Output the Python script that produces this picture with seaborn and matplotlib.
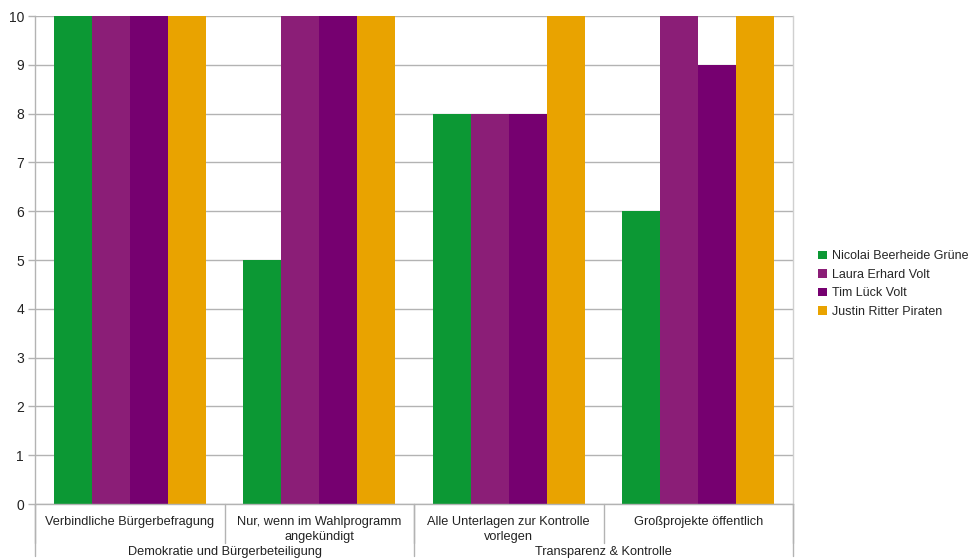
import matplotlib
matplotlib.use("Agg")
import matplotlib.pyplot as plt
import seaborn as sns
import pandas as pd
from matplotlib.patches import Patch

categories = ["Verbindliche Bürgerbefragung",
              "Nur, wenn im Wahlprogramm\nangekündigt",
              "Alle Unterlagen zur Kontrolle\nvorlegen",
              "Großprojekte öffentlich"]
groups = ["Demokratie und Bürgerbeteiligung", "Transparenz & Kontrolle"]
series = ["Nicolai Beerheide Grüne", "Laura Erhard Volt", "Tim Lück Volt", "Justin Ritter Piraten"]
values = {
    "Nicolai Beerheide Grüne": [10, 5, 8, 6],
    "Laura Erhard Volt": [10, 10, 8, 10],
    "Tim Lück Volt": [10, 10, 8, 9],
    "Justin Ritter Piraten": [10, 10, 10, 10],
}
colors = ["#0c9834", "#8b1e77", "#760070", "#e9a300"]
yticks = list(range(0, 11))

rows = []
for s in series:
    for c, v in zip(categories, values[s]):
        rows.append({"cat": c, "series": s, "val": v})
df = pd.DataFrame(rows)

sns.set_theme(style="white")
plt.rcParams["font.family"] = ["Liberation Sans", "DejaVu Sans"]

fig = plt.figure(figsize=(9.71, 5.6), dpi=100)
ax = fig.add_axes([35/971, 56/560, (793-35)/971, (504-16)/560])

sns.barplot(data=df, x="cat", y="val", hue="series", order=categories,
            hue_order=series, palette=colors, width=0.8, saturation=1,
            ax=ax, legend=False, linewidth=0)

ax.set_xlim(-0.5, 3.5)
ax.set_ylim(0, 10)
ax.set_yticks(yticks)
ax.set_yticklabels([str(t) for t in yticks], fontsize=10, color="#222222")
ax.yaxis.grid(True, color="#b3b3b3", linewidth=1)
ax.set_axisbelow(True)
ax.tick_params(axis="y", length=5, color="#b3b3b3", width=1, pad=3, left=True)
ax.set_xticks([])
ax.set_xlabel("")
ax.set_ylabel("")
ax.spines["top"].set_visible(False)
ax.spines["left"].set_color("#b3b3b3")
ax.spines["right"].set_color("#d0d0d0")
ax.spines["bottom"].set_color("#b3b3b3")
for sp in ax.spines.values():
    sp.set_linewidth(1)

trans = ax.get_xaxis_transform()
h = 488.0
for xs in [-0.5, 0.5, 1.5, 2.5, 3.5]:
    ax.plot([xs, xs], [0, -39/h], transform=trans, color="#b3b3b3", lw=1, clip_on=False)
for xs in [-0.5, 1.5, 3.5]:
    ax.plot([xs, xs], [0, -52/h], transform=trans, color="#b3b3b3", lw=1, clip_on=False)

for i, c in enumerate(categories):
    ax.text(i, -12/h, c, transform=trans, ha="center", va="top", fontsize=9.2,
            color="#222222", linespacing=1.3)
for j, g in enumerate(groups):
    ax.text(2*j + 0.5, -47.5/h, g, transform=trans, ha="center", va="center",
            fontsize=9.2, color="#222222")

handles = [Patch(facecolor=col, edgecolor="none", label=s) for s, col in zip(series, colors)]
fig.legend(handles=handles, loc="center left", bbox_to_anchor=(807/971, 1 - 284/560),
           frameon=False, handlelength=0.7, handleheight=0.7,
           handletextpad=0.4, labelspacing=0.52,
           prop={"size": 9})

fig.savefig("out.png", dpi=100)
